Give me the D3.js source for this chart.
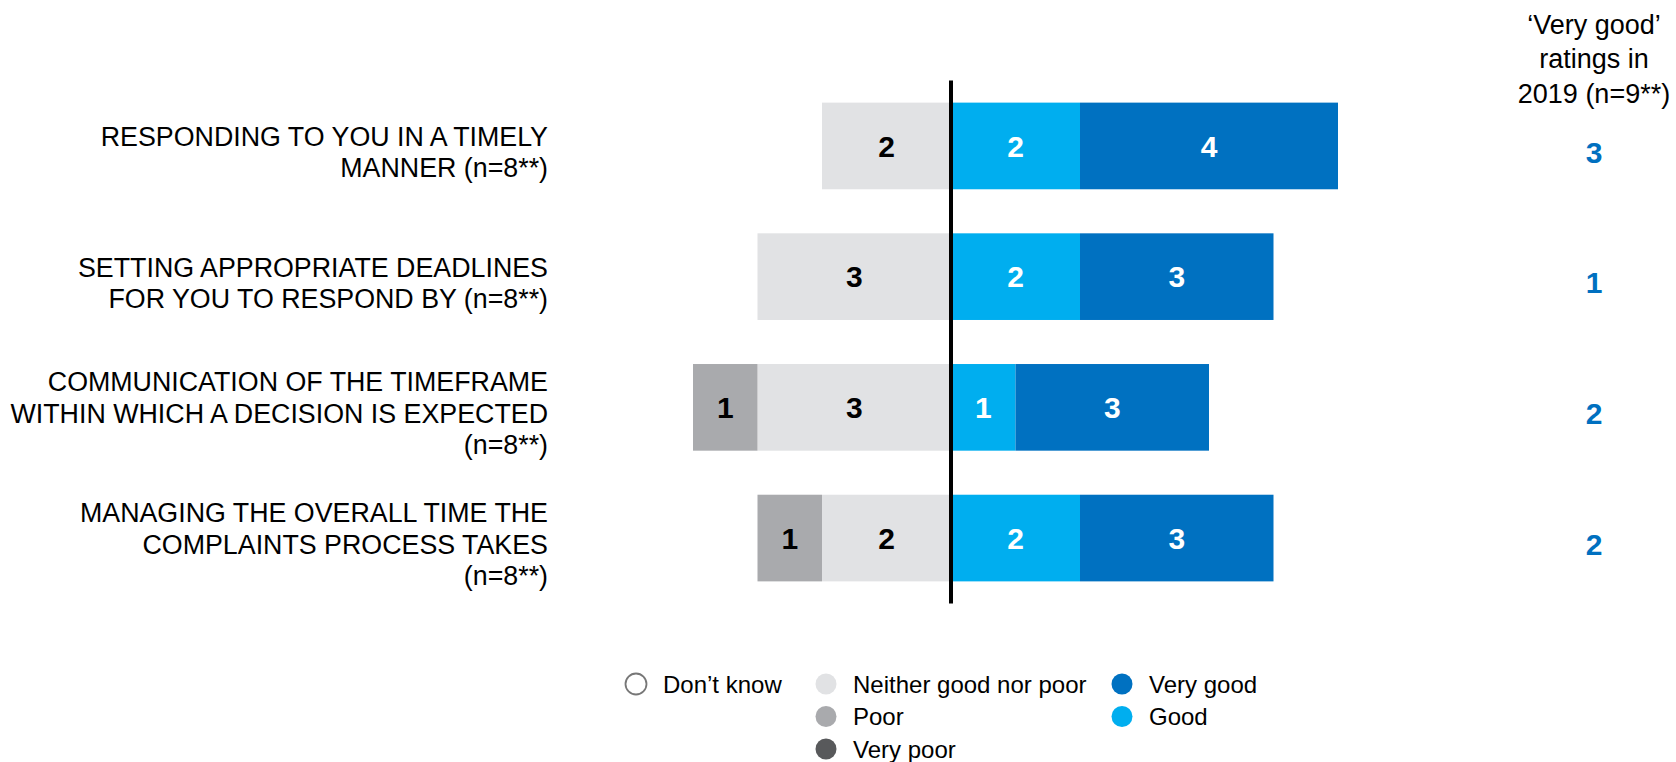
<!DOCTYPE html>
<html>
<head>
<meta charset="utf-8">
<script src="https://cdn.jsdelivr.net/npm/d3@7"></script>
<style>
  html, body { margin: 0; padding: 0; background: #fff; }
  svg { display: block; font-family: Arial, "Liberation Sans", sans-serif; }
</style>
</head>
<body>
<svg id="chart" width="1676" height="762"></svg>
<script>
// Survey items (multi-line labels)
const categories = [
  ["RESPONDING TO YOU IN A TIMELY", "MANNER (n=8**)"],
  ["SETTING APPROPRIATE DEADLINES", "FOR YOU TO RESPOND BY (n=8**)"],
  ["COMMUNICATION OF THE TIMEFRAME", "WITHIN WHICH A DECISION IS EXPECTED", "(n=8**)"],
  ["MANAGING THE OVERALL TIME THE", "COMPLAINTS PROCESS TAKES", "(n=8**)"]
];

// Response counts per item
const dontKnow = [0, 0, 0, 0];
const veryPoor = [0, 0, 0, 0];
const poor     = [0, 0, 1, 1];
const neither  = [2, 3, 3, 2];
const good     = [2, 2, 1, 2];
const veryGood = [4, 3, 3, 3];

// 'Very good' counts from the previous wave
const veryGood2019 = [3, 1, 2, 2];
const headerLines = ["\u2018Very good\u2019", "ratings in", "2019 (n=9**)"];

const colors = {
  veryPoor: "#58595B",
  poor: "#A9AAAD",
  neither: "#E1E2E4",
  good: "#00AEEF",
  veryGood: "#0071C1"
};

const svg = d3.select("#chart");

const x = d3.scaleLinear().domain([-5, 6]).range([628.5, 1338]);
const y = d3.scaleBand()
  .domain(d3.range(categories.length))
  .range([80.6, 603.4])
  .paddingInner(0.337)
  .paddingOuter(0.1685);

// Build diverging segments: negatives stack leftwards from zero, positives rightwards
const segments = [];
categories.forEach((c, i) => {
  let left = 0;
  [["neither", neither], ["poor", poor], ["veryPoor", veryPoor]].forEach(([k, arr]) => {
    const v = arr[i];
    if (v > 0) {
      segments.push({ row: i, key: k, value: v, x0: left - v, x1: left, side: "neg" });
      left -= v;
    }
  });
  let right = 0;
  [["good", good], ["veryGood", veryGood]].forEach(([k, arr]) => {
    const v = arr[i];
    if (v > 0) {
      segments.push({ row: i, key: k, value: v, x0: right, x1: right + v, side: "pos" });
      right += v;
    }
  });
});

const bars = svg.append("g");
bars.selectAll("rect")
  .data(segments)
  .join("rect")
  .attr("x", d => x(d.x0))
  .attr("width", d => x(d.x1) - x(d.x0))
  .attr("y", d => y(d.row))
  .attr("height", y.bandwidth())
  .attr("fill", d => colors[d.key]);

bars.selectAll("text")
  .data(segments)
  .join("text")
  .attr("x", d => (x(d.x0) + x(d.x1)) / 2)
  .attr("y", d => y(d.row) + y.bandwidth() / 2)
  .attr("dy", "0.36em")
  .attr("text-anchor", "middle")
  .attr("font-size", 30)
  .attr("font-weight", "bold")
  .attr("fill", d => d.side === "neg" ? "#000" : "#fff")
  .text(d => d.value);

// Zero line
svg.append("line")
  .attr("x1", x(0)).attr("x2", x(0))
  .attr("y1", y.range()[0]).attr("y2", y.range()[1])
  .attr("stroke", "#000")
  .attr("stroke-width", 4);

// Category labels
const lineGap = 31.5;
const labels = svg.append("g");
categories.forEach((lines, i) => {
  const cy = y(i) + y.bandwidth() / 2 + 6;
  const t = labels.append("text")
    .attr("text-anchor", "end")
    .attr("font-size", 26.8)
    .attr("fill", "#000");
  lines.forEach((ln, j) => {
    t.append("tspan")
      .attr("x", 548)
      .attr("y", cy + (j - (lines.length - 1) / 2) * lineGap)
      .attr("dy", "0.36em")
      .text(ln);
  });
});

// Previous-wave column
const colX = 1594;
const header = svg.append("text")
  .attr("text-anchor", "middle")
  .attr("font-size", 27)
  .attr("fill", "#000");
headerLines.forEach((ln, j) => {
  header.append("tspan")
    .attr("x", colX)
    .attr("y", 24 + j * 34.5)
    .attr("dy", "0.36em")
    .text(ln);
});

svg.append("g").selectAll("text")
  .data(veryGood2019)
  .join("text")
  .attr("x", colX)
  .attr("y", (d, i) => y(i) + y.bandwidth() / 2 + 6)
  .attr("dy", "0.36em")
  .attr("text-anchor", "middle")
  .attr("font-size", 30)
  .attr("font-weight", "bold")
  .attr("fill", "#0070C0")
  .text(d => d);

// Legend
const legendItems = [
  { label: "Don\u2019t know", fill: "#fff", stroke: "#777", cx: 636, row: 0 },
  { label: "Neither good nor poor", fill: colors.neither, cx: 826, row: 0 },
  { label: "Poor", fill: colors.poor, cx: 826, row: 1 },
  { label: "Very poor", fill: colors.veryPoor, cx: 826, row: 2 },
  { label: "Very good", fill: colors.veryGood, cx: 1122, row: 0 },
  { label: "Good", fill: colors.good, cx: 1122, row: 1 }
];
const legend = svg.append("g");
const lg = legend.selectAll("g")
  .data(legendItems)
  .join("g")
  .attr("transform", d => `translate(${d.cx},${684 + d.row * 32.5})`);
lg.append("circle")
  .attr("r", 10.5)
  .attr("fill", d => d.fill)
  .attr("stroke", d => d.stroke || "none")
  .attr("stroke-width", 1.8);
lg.append("text")
  .attr("x", 27)
  .attr("dy", "0.36em")
  .attr("font-size", 24)
  .attr("fill", "#000")
  .text(d => d.label);
</script>
</body>
</html>
